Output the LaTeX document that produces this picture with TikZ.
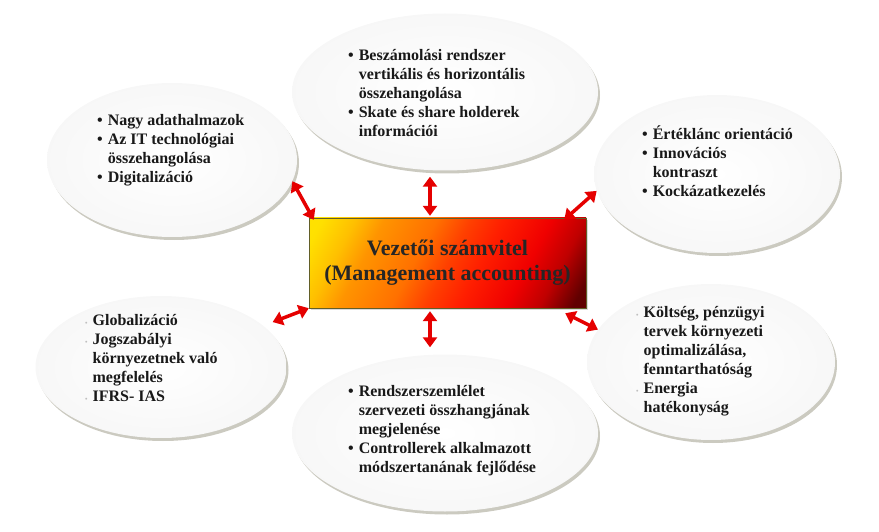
\documentclass[tikz,border=0pt]{standalone}
\usepackage{fontspec}
\setmainfont{Liberation Serif}
\usetikzlibrary{arrows.meta, shapes.geometric, shadows}

\pgfdeclarehorizontalshading{vezgrad}{100bp}{rgb(0bp)=(1,0.9,0); rgb(19bp)=(1,0.88,0); rgb(26bp)=(1,0.75,0); rgb(32bp)=(1,0.58,0); rgb(43bp)=(1,0.44,0); rgb(50bp)=(1,0.25,0); rgb(57bp)=(1,0.12,0); rgb(67bp)=(0.94,0,0); rgb(74bp)=(0.75,0,0); rgb(81bp)=(0.38,0,0); rgb(100bp)=(0.38,0,0)}

\newcommand{\bul}{\textbullet}
\newcommand{\gbul}{\textcolor{black!25}{\scriptsize\textbullet}}

\begin{document}
\begin{tikzpicture}[x=1pt, y=-1pt,
    bubble/.style={ellipse, inner color=white, outer color=black!3, draw=none,
        drop shadow={shadow xshift=2pt, shadow yshift=-3pt, opacity=0.3, fill=black!55!olive}},
    list/.style={anchor=west, inner sep=0pt, text=black!90,
        font=\bfseries\fontsize{16}{19}\selectfont},
    twoway/.style={red!90!black, line width=3.5pt,
        {Triangle[length=10pt,width=14pt]}-{Triangle[length=10pt,width=14pt]}}]

    \useasboundingbox (0,0) rectangle (879,532);

    % bubbles
    \foreach \n/\x/\y/\w/\h in {tl/172/160/250/154, tc/445/92/306/157, tr/717/174/246/158,
                                bl/161/367/251/142, bc/445/433/306/157, br/711/362/248/156}
        \node[bubble, minimum width=\w pt, minimum height=\h pt] (\n) at (\x,\y) {};

    % centre box
    \node[rectangle, draw=olive!60!black, thin, shading=vezgrad, shading angle=-28,
          minimum width=277pt, minimum height=90pt, align=center, text=black!85,
          drop shadow={shadow xshift=2pt, shadow yshift=-2pt, opacity=0.3},
          font=\bfseries\fontsize{22}{25}\selectfont] (main) at (447.5,263)
        {Vezetői számvitel\\(Management accounting)};

    % texts
    \node[list] (tltext) at (97,150.5) {\begin{tabular}{@{}l@{\hspace{5pt}}l@{}}
        \bul & Nagy adathalmazok\\
        \bul & Az IT technológiai\\
             & összehangolása\\
        \bul & Digitalizáció\end{tabular}};
    \node[list] (tctext) at (348,94.5) {\begin{tabular}{@{}l@{\hspace{5pt}}l@{}}
        \bul & Beszámolási rendszer\\
             & vertikális és horizontális\\
             & összehangolása\\
        \bul & Skate és share holderek\\
             & információi\end{tabular}};
    \node[list] (trtext) at (642,163.5) {\begin{tabular}{@{}l@{\hspace{5pt}}l@{}}
        \bul & Értéklánc orientáció\\
        \bul & Innovációs\\
             & kontraszt\\
        \bul & Kockázatkezelés\end{tabular}};
    \node[list] (bltext) at (85,360) {\begin{tabular}{@{}l@{\hspace{5pt}}l@{}}
        \gbul & Globalizáció\\
        \gbul & Jogszabályi\\
              & környezetnek való\\
              & megfelelés\\
        \gbul & IFRS- IAS\end{tabular}};
    \node[list] (brtext) at (636,361.5) {\begin{tabular}{@{}l@{\hspace{5pt}}l@{}}
        \gbul & Költség, pénzügyi\\
              & tervek környezeti\\
              & optimalizálása,\\
              & fenntarthatóság\\
        \gbul & Energia\\
              & hatékonyság\end{tabular}};
    \node[list] (bctext) at (348,431) {\begin{tabular}{@{}l@{\hspace{5pt}}l@{}}
        \bul & Rendszerszemlélet\\
             & szervezeti összhangjának\\
             & megjelenése\\
        \bul & Controllerek alkalmazott\\
             & módszertanának fejlődése\end{tabular}};

    % arrows
    \draw[twoway, shorten <=6pt, shorten >=2pt] ([xshift=-15pt]tc.south) -- ([xshift=-17.5pt]main.north);
    \draw[twoway, shorten <=3pt, shorten >=7pt] ([xshift=-17.5pt]main.south) -- ([xshift=-15pt]bc.north);
    \draw[twoway] (tl.-10) -- ([xshift=5pt,yshift=-2pt]main.north west);
    \draw[twoway] ([xshift=-22pt,yshift=-2pt]main.north east) -- (tr.188);
    \draw[twoway, shorten <=10pt] (bl.22) -- (main.south west);
    \draw[twoway] ([xshift=-21pt,yshift=-5pt]main.south east) -- (br.164);
\end{tikzpicture}
\end{document}
